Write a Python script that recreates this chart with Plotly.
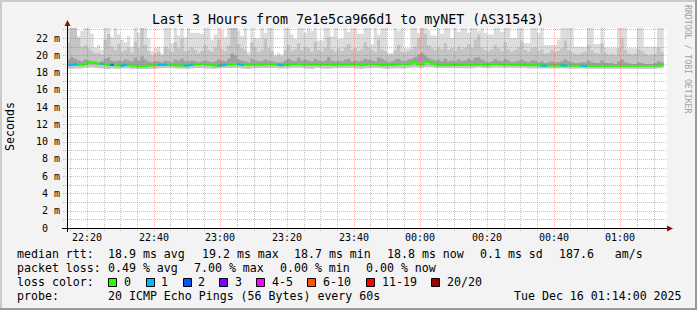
import plotly.graph_objects as go
from datetime import datetime, timedelta

# ---------------- data ----------------
title_text = "Last 3 Hours from 7e1e5ca966d1 to myNET (AS31543)"
start_time = datetime(2025, 12, 15, 22, 14)
span_minutes = 180

# smoke (ms) per 60 s step
smoke_max = [
    23.5, 23.5, 23.5, 22.2, 22.8, 23.5, 23.5, 22.5, 20.9, 21.2,
    20.6, 23.5, 23.5, 22.1, 23.5, 22.4, 21.8, 21.5, 22.2, 21.0,
    23.5, 22.6, 23.5, 23.5, 22.0, 20.5, 20.8, 21.0, 20.2, 23.5,
    23.5, 21.4, 23.5, 22.3, 23.5, 22.1, 23.5, 22.6, 22.6, 22.6,
    22.5, 23.5, 23.5, 21.8, 22.4, 23.5, 22.9, 22.1, 23.5, 23.5,
    23.5, 22.8, 22.2, 23.5, 20.4, 23.5, 22.0, 22.0, 23.5, 22.6,
    23.5, 23.5, 20.1, 20.3, 20.1, 23.5, 23.5, 22.4, 21.9, 23.5,
    23.5, 22.6, 23.5, 22.8, 23.5, 21.7, 21.7, 23.5, 23.5, 22.2,
    23.5, 21.9, 21.9, 23.5, 22.7, 23.5, 23.5, 22.5, 22.5, 23.5,
    23.5, 21.3, 23.5, 22.4, 23.5, 23.5, 20.3, 20.3, 23.5, 22.8,
    23.5, 20.8, 20.8, 23.5, 23.5, 22.6, 23.5, 23.5, 22.9, 22.3,
    22.3, 23.5, 22.5, 23.5, 23.5, 22.0, 23.5, 22.7, 23.5, 23.5,
    22.6, 23.5, 23.5, 22.8, 23.5, 22.6, 22.4, 22.4, 23.5, 23.5,
    22.7, 23.5, 23.5, 22.0, 22.0, 23.5, 23.5, 21.4, 21.4, 23.5,
    23.5, 22.6, 23.5, 21.2, 21.2, 21.2, 21.2, 21.8, 23.5, 23.5,
    23.5, 23.5, 21.0, 21.0, 21.0, 21.0, 23.5, 23.5, 21.3, 21.3,
    23.5, 20.9, 20.9, 20.9, 20.9, 23.5, 23.5, 23.5, 20.8, 20.8,
    20.8, 23.5, 23.5, 21.0, 21.0, 21.0, 21.0, 23.5, 23.5,
]
smoke_upper2 = [
    21.5, 23.5, 23.5, 22.0, 21.0, 21.2, 20.8, 20.5, 20.2, 20.3,
    20.1, 21.8, 22.5, 21.0, 20.6, 21.3, 20.4, 20.6, 20.9, 20.3,
    21.6, 20.8, 23.5, 21.2, 20.5, 20.0, 20.2, 20.4, 20.0, 21.0,
    20.7, 20.4, 21.5, 20.8, 21.9, 20.5, 20.6, 20.9, 20.6, 20.3,
    20.5, 21.2, 20.6, 20.4, 20.9, 21.8, 20.7, 20.5, 21.1, 23.5,
    23.5, 21.3, 20.8, 20.6, 20.0, 21.5, 20.9, 20.4, 20.6, 21.9,
    20.8, 20.5, 19.9, 20.0, 19.9, 20.6, 21.2, 20.5, 20.7, 21.4,
    20.6, 21.0, 20.8, 20.4, 21.6, 20.6, 20.4, 20.9, 22.1, 20.7,
    20.4, 20.8, 20.5, 20.9, 21.3, 20.6, 20.8, 20.5, 20.7, 21.5,
    20.9, 20.6, 20.4, 21.8, 20.7, 20.5, 20.0, 20.1, 20.6, 21.2,
    20.4, 20.3, 20.5, 20.7, 21.0, 22.0, 23.5, 22.5, 21.2, 20.8,
    20.6, 20.9, 20.7, 21.4, 20.6, 20.8, 20.5, 21.0, 20.7, 20.9,
    21.3, 20.8, 21.8, 22.4, 20.9, 20.6, 20.5, 20.7, 21.2, 20.8,
    20.5, 21.5, 20.7, 20.4, 20.6, 20.9, 21.6, 20.6, 20.4, 20.8,
    20.9, 20.5, 20.7, 20.2, 20.3, 20.6, 20.4, 20.5, 20.8, 21.7,
    20.6, 20.4, 20.2, 20.1, 20.3, 20.4, 21.2, 20.6, 20.3, 20.2,
    21.4, 20.3, 20.1, 20.2, 20.0, 20.8, 21.9, 20.6, 20.2, 20.1,
    20.2, 20.7, 20.5, 20.2, 20.0, 20.1, 20.2, 20.9, 20.4,
]
smoke_upper3 = [
    19.5, 19.8, 19.6, 19.4, 19.3, 19.5, 19.4, 19.3, 19.3, 19.2,
    19.3, 19.6, 19.7, 19.4, 19.3, 19.4, 19.3, 19.5, 19.4, 19.3,
    19.7, 19.4, 19.9, 19.5, 19.3, 19.2, 19.3, 19.3, 19.2, 19.4,
    19.3, 19.2, 19.5, 19.4, 19.6, 19.3, 19.3, 19.4, 19.3, 19.2,
    19.3, 19.4, 19.3, 19.2, 19.3, 19.5, 19.4, 19.3, 19.6, 20.2,
    20.0, 19.5, 19.4, 19.3, 19.2, 19.6, 19.4, 19.3, 19.3, 19.5,
    19.4, 19.3, 19.2, 19.2, 19.2, 19.4, 19.6, 19.4, 19.3, 19.7,
    19.4, 19.5, 19.4, 19.3, 19.6, 19.4, 19.3, 19.4, 19.8, 19.4,
    19.3, 19.4, 19.3, 19.5, 19.6, 19.3, 19.4, 19.3, 19.4, 19.6,
    19.5, 19.4, 19.3, 19.7, 19.6, 19.4, 19.2, 19.3, 19.5, 19.6,
    19.4, 19.3, 19.5, 19.6, 19.8, 20.1, 20.3, 20.0, 19.7, 19.5,
    19.4, 19.5, 19.3, 19.6, 19.3, 19.4, 19.3, 19.5, 19.3, 19.4,
    19.6, 19.4, 19.7, 19.8, 19.5, 19.3, 19.2, 19.3, 19.6, 19.4,
    19.3, 19.6, 19.4, 19.2, 19.3, 19.4, 19.5, 19.3, 19.2, 19.4,
    19.4, 19.2, 19.3, 19.1, 19.2, 19.3, 19.2, 19.2, 19.3, 19.5,
    19.3, 19.2, 19.1, 19.1, 19.2, 19.2, 19.4, 19.2, 19.1, 19.1,
    19.4, 19.1, 19.1, 19.1, 19.0, 19.3, 19.5, 19.2, 19.1, 19.0,
    19.0, 19.2, 19.1, 19.0, 19.0, 19.0, 19.1, 19.3, 19.2,
]
median_rtt = [
    18.9, 18.9, 18.95, 18.9, 18.9, 19.0, 19.1, 19.15, 19.1, 19.05,
    19.0, 18.95, 18.85, 18.9, 18.85, 18.8, 18.8, 18.9, 18.85, 18.8,
    18.75, 18.7, 18.7, 18.75, 18.8, 18.8, 18.85, 18.9, 18.9, 18.9,
    18.9, 18.9, 18.85, 18.8, 18.8, 18.8, 18.85, 18.9, 18.9, 18.95,
    19.0, 18.95, 18.9, 18.85, 18.8, 18.8, 18.85, 18.9, 18.9, 18.95,
    19.0, 18.95, 18.9, 18.9, 18.85, 18.9, 18.9, 18.85, 18.9, 18.95,
    18.95, 18.9, 18.9, 18.9, 18.85, 18.85, 18.9, 18.95, 19.0, 19.0,
    18.95, 18.9, 18.9, 18.85, 18.9, 18.9, 18.9, 18.85, 18.85, 18.9,
    18.9, 18.85, 18.85, 18.9, 18.9, 18.95, 18.9, 18.9, 18.85, 18.9,
    18.95, 18.9, 18.9, 18.9, 18.85, 18.9, 18.85, 18.9, 18.9, 18.95,
    18.9, 18.9, 18.95, 19.1, 19.15, 18.95, 18.9, 19.2, 19.2, 19.05,
    18.95, 18.85, 18.85, 18.9, 18.9, 18.9, 18.85, 18.85, 18.9, 18.9,
    18.9, 18.85, 18.9, 18.95, 18.9, 18.85, 18.9, 18.95, 19.0, 19.0,
    18.95, 18.9, 18.85, 18.85, 18.9, 18.85, 18.9, 18.9, 18.9, 18.85,
    18.85, 18.85, 18.8, 18.8, 18.8, 18.85, 18.85, 18.8, 18.85, 18.8,
    18.8, 18.8, 18.8, 18.8, 18.8, 18.75, 18.8, 18.8, 18.8, 18.8,
    18.8, 18.8, 18.8, 18.8, 18.8, 18.8, 18.8, 18.8, 18.8, 18.8,
    18.8, 18.8, 18.8, 18.8, 18.8, 18.8, 18.8, 18.8, 18.85,
]
smoke_min = [
    18.5, 18.45, 18.5, 18.55, 18.5, 18.55, 18.6, 18.6, 18.55, 18.5,
    18.5, 18.45, 18.4, 18.5, 18.5, 18.45, 18.5, 18.55, 18.5, 18.45,
    18.45, 18.4, 18.4, 18.45, 18.5, 18.5, 18.45, 18.5, 18.5, 18.55,
    18.5, 18.55, 18.5, 18.45, 18.5, 18.45, 18.45, 18.5, 18.55, 18.5,
    18.55, 18.5, 18.5, 18.45, 18.45, 18.5, 18.5, 18.55, 18.5, 18.55,
    18.5, 18.55, 18.5, 18.5, 18.45, 18.5, 18.55, 18.5, 18.5, 18.55,
    18.5, 18.5, 18.55, 18.5, 18.45, 18.5, 18.5, 18.55, 18.6, 18.55,
    18.55, 18.5, 18.5, 18.45, 18.5, 18.55, 18.5, 18.5, 18.45, 18.5,
    18.55, 18.5, 18.5, 18.55, 18.5, 18.55, 18.5, 18.5, 18.45, 18.5,
    18.55, 18.5, 18.5, 18.55, 18.5, 18.5, 18.45, 18.5, 18.5, 18.55,
    18.5, 18.5, 18.55, 18.6, 18.6, 18.55, 18.5, 18.6, 18.65, 18.6,
    18.55, 18.5, 18.5, 18.55, 18.5, 18.55, 18.5, 18.5, 18.55, 18.5,
    18.55, 18.5, 18.55, 18.6, 18.55, 18.5, 18.5, 18.55, 18.6, 18.55,
    18.55, 18.5, 18.5, 18.5, 18.55, 18.5, 18.5, 18.55, 18.5, 18.5,
    18.5, 18.5, 18.45, 18.45, 18.5, 18.5, 18.5, 18.45, 18.5, 18.45,
    18.5, 18.45, 18.5, 18.5, 18.45, 18.45, 18.5, 18.5, 18.45, 18.5,
    18.5, 18.5, 18.45, 18.5, 18.5, 18.45, 18.5, 18.5, 18.5, 18.45,
    18.5, 18.5, 18.45, 18.5, 18.5, 18.5, 18.45, 18.5, 18.55,
]
lost_pings = [
    1, 1, 1, 0, 0, 0, 0, 0, 0, 0,
    1, 0, 0, 2, 0, 0, 1, 1, 0, 0,
    0, 0, 0, 0, 0, 0, 0, 1, 1, 1,
    0, 0, 0, 0, 0, 1, 1, 1, 0, 0,
    0, 0, 0, 0, 0, 1, 1, 1, 0, 0,
    0, 1, 1, 0, 0, 0, 0, 0, 0, 0,
    0, 0, 0, 1, 1, 0, 0, 0, 0, 0,
    0, 0, 0, 0, 0, 0, 0, 0, 0, 0,
    0, 0, 0, 0, 0, 0, 0, 0, 0, 0,
    0, 0, 0, 0, 0, 0, 0, 0, 0, 0,
    0, 0, 0, 0, 0, 0, 0, 0, 0, 0,
    0, 0, 0, 0, 0, 0, 0, 0, 0, 0,
    0, 0, 0, 0, 0, 0, 0, 0, 0, 0,
    0, 0, 0, 0, 0, 0, 0, 0, 0, 0,
    0, 0, 1, 1, 0, 0, 0, 0, 1, 1,
    0, 0, 0, 0, 1, 1, 0, 0, 0, 0,
    0, 0, 0, 0, 0, 0, 0, 0, 0, 0,
    0, 0, 0, 0, 0, 0, 0, 0, 0,
]

y_tick_values = [0, 2, 4, 6, 8, 10, 12, 14, 16, 18, 20, 22]
y_tick_labels = ["0\u00a0\u00a0", "2 m", "4 m", "6 m", "8 m", "10 m", "12 m",
                 "14 m", "16 m", "18 m", "20 m", "22 m"]
x_tick_times = [datetime(2025, 12, 15, 22, 20), datetime(2025, 12, 15, 22, 40),
                datetime(2025, 12, 15, 23, 0), datetime(2025, 12, 15, 23, 20),
                datetime(2025, 12, 15, 23, 40), datetime(2025, 12, 16, 0, 0),
                datetime(2025, 12, 16, 0, 20), datetime(2025, 12, 16, 0, 40),
                datetime(2025, 12, 16, 1, 0)]
x_tick_labels = ["22:20", "22:40", "23:00", "23:20", "23:40", "00:00", "00:20", "00:40", "01:00"]

loss_labels = ["0", "1", "2", "3", "4-5", "6-10", "11-19", "20/20"]
loss_colors = ["#26ff00", "#00b8ff", "#0059ff", "#7e00ff", "#ff00ff", "#ff5500", "#ff0000", "#a10000"]

legend_rows = [
    ["median rtt:", "18.9 ms avg", "19.2 ms max", "18.7 ms min", "18.8 ms now", "0.1 ms sd", "187.6   am/s"],
    ["packet loss:", "0.49 % avg", "7.00 % max", "0.00 % min", "0.00 % now"],
]
probe_text = "20 ICMP Echo Pings (56 Bytes) every 60s"
date_text = "Tue Dec 16 01:14:00 2025"

# ---------------- layout helpers ----------------
W, H = 697, 310
PL, PT, PW, PH = 67, 28, 600, 200
PX_PER_MS = (228.0 - 38.0) / 22.0  # 22 ms spans 190 px
Y_MAX = PH / PX_PER_MS
MONO = "DejaVu Sans Mono"


def px(x):
    return (x - PL) / PW


def py(y):
    return (PT + PH - y) / PH


def loss_bucket(n):
    if n <= 3:
        return n
    if n <= 5:
        return 4
    if n <= 10:
        return 5
    if n <= 19:
        return 6
    return 7


n = len(median_rtt)
edges = [start_time + timedelta(seconds=60 * i) for i in range(n + 1)]


def step_xy(vals):
    xs, ys = [], []
    for i, v in enumerate(vals):
        xs += [edges[i], edges[i + 1]]
        ys += [v, v]
    return xs, ys


def band(upper, lower, color):
    ux, uy = step_xy(upper)
    lx, ly = step_xy(lower)
    return go.Scatter(x=ux + lx[::-1], y=uy + ly[::-1], fill="toself", fillcolor=color,
                      mode="lines", line=dict(width=0), hoverinfo="skip", showlegend=False)


fig = go.Figure()
fig.add_trace(band(smoke_max, smoke_min, "#dddddd"))
fig.add_trace(band(smoke_upper2, smoke_min, "#c4c4c4"))
fig.add_trace(band(smoke_upper3, median_rtt, "#a0a0a0"))

mx, my = step_xy(median_rtt)
fig.add_trace(go.Scatter(x=mx, y=my, mode="lines", line=dict(color=loss_colors[0], width=2),
                         hoverinfo="skip", showlegend=False))
for b in range(1, len(loss_colors)):
    sx, sy = [], []
    for i, lp in enumerate(lost_pings):
        if lp > 0 and loss_bucket(lp) == b:
            sx += [edges[i], edges[i + 1], None]
            sy += [median_rtt[i], median_rtt[i], None]
    if sx:
        fig.add_trace(go.Scatter(x=sx, y=sy, mode="lines", line=dict(color=loss_colors[b], width=2),
                                 hoverinfo="skip", showlegend=False))

shapes = []
# frame shading
shapes += [
    dict(type="rect", xref="paper", yref="paper", x0=px(0), x1=px(W), y0=py(0), y1=py(2),
         fillcolor="#cbcbcb", line=dict(width=0), layer="below"),
    dict(type="rect", xref="paper", yref="paper", x0=px(0), x1=px(2), y0=py(0), y1=py(H),
         fillcolor="#cbcbcb", line=dict(width=0), layer="below"),
    dict(type="rect", xref="paper", yref="paper", x0=px(0), x1=px(W), y0=py(H - 2), y1=py(H),
         fillcolor="#999999", line=dict(width=0), layer="below"),
    dict(type="rect", xref="paper", yref="paper", x0=px(W - 2), x1=px(W), y0=py(0), y1=py(H),
         fillcolor="#999999", line=dict(width=0), layer="below"),
]
MINOR = "rgba(130,130,130,0.5)"
MAJOR = "rgba(255,0,0,0.3)"
# vertical grid every 5 minutes, major every 20 minutes (at :00/:20/:40), snapped to pixels
for m in range(1, span_minutes, 5):
    t = start_time + timedelta(minutes=m)
    major = t.minute % 20 == 0
    xp = round(PL + m * PW / span_minutes) + 0.5
    shapes.append(dict(type="line", xref="paper", yref="paper", x0=px(xp), x1=px(xp),
                       y0=py(231), y1=py(PT), line=dict(color=MAJOR if major else MINOR, width=1, dash="1px,1px"),
                       layer="above"))
# horizontal grid every 1 ms, major every 2 ms
for v in range(1, 24):
    yp = round(PT + PH - v * PX_PER_MS) + 0.5
    if yp < PT:
        continue
    major = v % 2 == 0
    shapes.append(dict(type="line", xref="paper", yref="paper", x0=px(63), x1=px(667), y0=py(yp), y1=py(yp),
                       line=dict(color=MAJOR if major else MINOR, width=1, dash="1px,1px"), layer="above"))
# axes + arrows
shapes += [
    dict(type="line", xref="paper", yref="paper", x0=px(62), x1=px(668), y0=py(228.5), y1=py(228.5),
         line=dict(color="#000000", width=1), layer="above"),
    dict(type="line", xref="paper", yref="paper", x0=px(67.5), x1=px(67.5), y0=py(232), y1=py(24),
         line=dict(color="#000000", width=1), layer="above"),
    dict(type="path", xref="paper", yref="paper",
         path=f"M {px(64.5)},{py(26)} L {px(70.5)},{py(26)} L {px(67.5)},{py(20)} Z",
         fillcolor="#8b1010", line=dict(width=0), layer="above"),
    dict(type="path", xref="paper", yref="paper",
         path=f"M {px(667)},{py(225.5)} L {px(667)},{py(231.5)} L {px(673)},{py(228.5)} Z",
         fillcolor="#8b1010", line=dict(width=0), layer="above"),
]
# loss color boxes
box_x = [108, 146, 183, 219, 256, 307, 366, 431]
for bx, col in zip(box_x, loss_colors):
    shapes.append(dict(type="rect", xref="paper", yref="paper", x0=px(bx + 0.5), x1=px(bx + 8.5),
                       y0=py(286.5), y1=py(278.5), fillcolor=col, line=dict(color="#000000", width=1),
                       layer="above"))

ann = []


def text(x, y, s, size=11.6, anchor="left", color="#000000", angle=0, xref="paper", yref="paper"):
    ann.append(dict(x=x, y=y, xref=xref, yref=yref, text=s, showarrow=False, xanchor=anchor,
                    yanchor="middle", borderpad=0, textangle=angle,
                    font=dict(family=MONO, size=size, color=color)))


text(px(347.5), py(19), title_text, size=13.3, anchor="center")
text(px(10), py(127), "Seconds", size=11.6, anchor="center", angle=-90)
text(px(688), py(59), "RRDTOOL / TOBI OETIKER", size=8.2, anchor="center", angle=90, color="#a0a0a0")
for v, lab in zip(y_tick_values, y_tick_labels):
    text(px(60.5), v, lab, size=10, anchor="right", yref="y")
for t, lab in zip(x_tick_times, x_tick_labels):
    text(t, py(237.5), lab, size=10, anchor="center", xref="x")

row_x = [[16, 107, 201, 293, 386, 479, 558], [16, 107, 193, 279, 365]]
row_y = [254.3, 268.3]
for items, xs, yv in zip(legend_rows, row_x, row_y):
    for s, xv in zip(items, xs):
        text(px(xv), py(yv), s.replace(" ", "\u00a0"))
text(px(16), py(282.3), "loss\u00a0color:")
label_x = [123, 160, 197, 234, 271, 322, 381, 446]
for s, xv in zip(loss_labels, label_x):
    text(px(xv), py(282.3), s)
text(px(16), py(295.8), "probe:")
text(px(107), py(295.8), probe_text.replace(" ", "\u00a0"))
text(px(513), py(295.8), date_text.replace(" ", "\u00a0"))

fig.update_layout(
    width=W, height=H,
    margin=dict(l=PL, r=W - PL - PW, t=PT, b=H - PT - PH, pad=0),
    paper_bgcolor="#f3f3f3", plot_bgcolor="#ffffff",
    showlegend=False,
    xaxis=dict(type="date", range=[edges[0], start_time + timedelta(minutes=span_minutes)],
               showgrid=False, zeroline=False, showline=False, showticklabels=False, ticks="",
               fixedrange=True),
    yaxis=dict(range=[0, Y_MAX], showgrid=False, zeroline=False, showline=False,
               showticklabels=False, ticks="", fixedrange=True),
    shapes=shapes, annotations=ann,
)

fig.write_html("out.html")
